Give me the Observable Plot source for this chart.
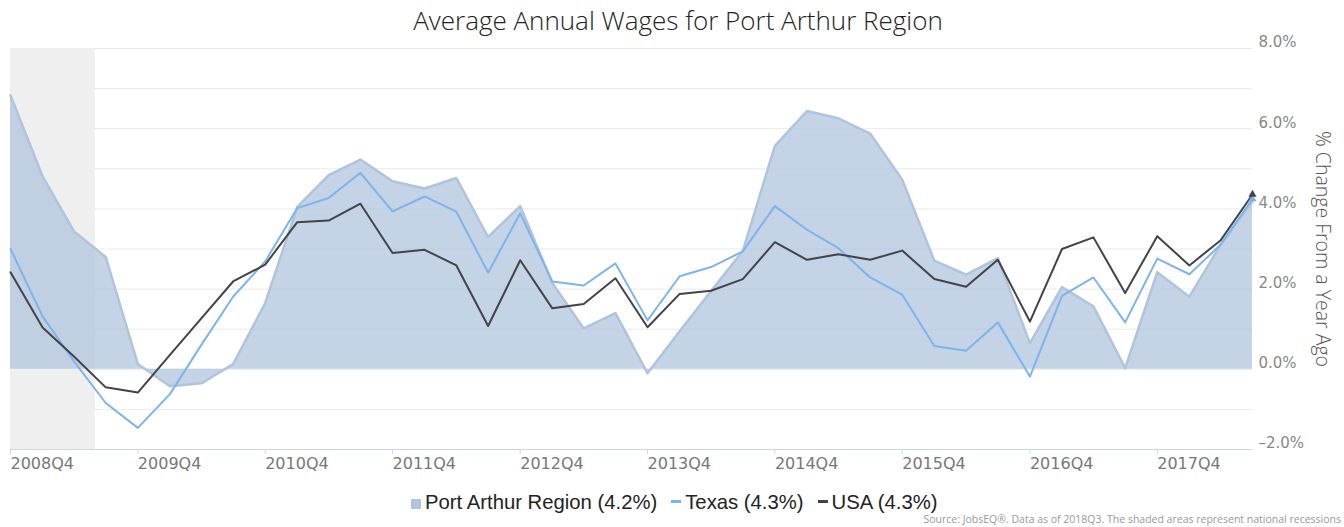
<!DOCTYPE html>
<html>
<head>
<meta charset="utf-8">
<script src="https://cdn.jsdelivr.net/npm/d3@7"></script>
<script src="https://cdn.jsdelivr.net/npm/@observablehq/plot@0.6"></script>
<style>
html, body { margin: 0; padding: 0; background: #fff; }
#wrap { position: relative; width: 1344px; height: 527px; overflow: hidden; }
#title { position: absolute; left: 6px; top: 0; width: 1344px; text-align: center;
  font-family: "Open Sans", sans-serif; font-weight: 300; font-size: 26px; line-height: 40px; color: #222; }
#chart { position: absolute; left: 0; top: 38px; }
#legend { position: absolute; left: 411px; top: 489px; font-family: "Liberation Sans", Arial, sans-serif;
  font-size: 20.3px; line-height: 26px; color: #222; white-space: nowrap; }
#legend .item { display: inline-block; margin-right: 14px; }
#legend .sq { display: inline-block; width: 10px; height: 10px; margin-right: 4px; vertical-align: baseline; }
#legend .ln { display: inline-block; width: 10px; height: 3px; margin-right: 4px; vertical-align: 0.3em; }
#source { position: absolute; right: 3px; top: 512px; font-family: "Open Sans", sans-serif; font-size: 10.5px;
  line-height: 14px; color: #999; white-space: nowrap; }
</style>
</head>
<body>
<div id="wrap">
  <div id="title"></div>
  <div id="chart"></div>
  <div id="legend"></div>
  <div id="source"></div>
</div>
<script>
const titleText = "Average Annual Wages for Port Arthur Region";
const yAxisTitle = "% Change From a Year Ago";
const sourceText = "Source: JobsEQ®. Data as of 2018Q3. The shaded areas represent national recessions";

const quarters = [
  "2008Q4","2009Q1","2009Q2","2009Q3","2009Q4","2010Q1","2010Q2","2010Q3",
  "2010Q4","2011Q1","2011Q2","2011Q3","2011Q4","2012Q1","2012Q2","2012Q3",
  "2012Q4","2013Q1","2013Q2","2013Q3","2013Q4","2014Q1","2014Q2","2014Q3",
  "2014Q4","2015Q1","2015Q2","2015Q3","2015Q4","2016Q1","2016Q2","2016Q3",
  "2016Q4","2017Q1","2017Q2","2017Q3","2017Q4","2018Q1","2018Q2","2018Q3"
];
const portArthur = [
  6.83, 4.81, 3.44, 2.80, 0.13, -0.42, -0.35, 0.13,
  1.65, 4.05, 4.84, 5.23, 4.69, 4.51, 4.77, 3.30,
  4.07, 2.15, 1.02, 1.40, -0.10, 0.95, 1.95, 2.95,
  5.57, 6.44, 6.26, 5.88, 4.73, 2.71, 2.36, 2.77,
  0.65, 2.05, 1.57, 0.03, 2.42, 1.81, 3.11, 4.19
];
const texas = [
  3.00, 1.32, 0.20, -0.84, -1.46, -0.62, 0.61, 1.81,
  2.69, 4.02, 4.27, 4.90, 3.94, 4.31, 3.93, 2.41,
  3.89, 2.19, 2.09, 2.64, 1.22, 2.32, 2.55, 2.94,
  4.07, 3.48, 3.02, 2.29, 1.86, 0.58, 0.46, 1.17,
  -0.18, 1.83, 2.29, 1.17, 2.76, 2.37, 3.11, 4.25
];
const usa = [
  2.42, 1.04, 0.32, -0.45, -0.58, 0.36, 1.27, 2.19,
  2.61, 3.67, 3.71, 4.13, 2.90, 2.98, 2.59, 1.08,
  2.72, 1.52, 1.63, 2.27, 1.05, 1.88, 1.96, 2.25,
  3.17, 2.73, 2.87, 2.73, 2.96, 2.25, 2.06, 2.73,
  1.19, 3.00, 3.29, 1.90, 3.32, 2.59, 3.22, 4.36
];
const xTickLabels = ["2008Q4","2009Q4","2010Q4","2011Q4","2012Q4","2013Q4","2014Q4","2015Q4","2016Q4","2017Q4"];
const yTickValues = [-2, 0, 2, 4, 6, 8];
const yGridValues = [-1, 0, 1, 2, 3, 4, 5, 6, 7, 8];
const recessionStarts = ["2007-12-01"];
const recessionEnds = ["2009-06-01"];
const seriesNames = ["Port Arthur Region", "Texas", "USA"];
const seriesLatest = ["4.2%", "4.3%", "4.3%"];
const seriesColors = ["#b0c4de", "#7cb5ec", "#434348"];

const parseQ = q => new Date(Date.UTC(+q.slice(0, 4), (+q.slice(5) - 1) * 3, 1));
const rows = quarters.map((q, i) => ({date: parseQ(q), port: portArthur[i], texas: texas[i], usa: usa[i]}));
const recessions = recessionStarts.map((s, i) => ({start: new Date(s), end: new Date(recessionEnds[i])}));
const tickLabelByTime = new Map(xTickLabels.map(l => [+parseQ(l), l]));
const fmtY = d => (d < 0 ? "\u2013" : "") + Math.abs(d).toFixed(1) + "%";
const last = [rows[rows.length - 1]];

const chart = Plot.plot({
  width: 1344, height: 446,
  marginLeft: 10, marginRight: 92, marginTop: 10, marginBottom: 35,
  style: {fontFamily: "DejaVu Sans, sans-serif", background: "transparent", overflow: "visible"},
  x: {type: "utc", domain: [rows[0].date, rows[rows.length - 1].date], label: null},
  y: {domain: [-2, 8], label: null},
  marks: [
    Plot.gridY(yGridValues, {stroke: "#e9e9e9", strokeOpacity: 1}),
    Plot.rect(recessions, {x1: "start", x2: "end", fill: "#efefef", clip: true}),
    Plot.areaY(rows, {x: "date", y: "port", fill: seriesColors[0], fillOpacity: 0.75}),
    Plot.lineY(rows, {x: "date", y: "port", stroke: seriesColors[0], strokeWidth: 2.5}),
    Plot.lineY(rows, {x: "date", y: "texas", stroke: seriesColors[1], strokeWidth: 2}),
    Plot.lineY(rows, {x: "date", y: "usa", stroke: seriesColors[2], strokeWidth: 2}),
    Plot.dot(last, {x: "date", y: "texas", symbol: "triangle", r: 3, fill: seriesColors[1]}),
    Plot.dot(last, {x: "date", y: "usa", symbol: "triangle", r: 3, fill: seriesColors[2]}),
    Plot.ruleY([-2], {stroke: "#ccd6eb"}),
    Plot.axisX({ticks: xTickLabels.map(parseQ), tickFormat: d => tickLabelByTime.get(+d), tickSize: 5,
      tickPadding: 3, stroke: "#ccd6eb", fill: "#777", textAnchor: "start", fontSize: 16, label: null}),
    Plot.axisY({anchor: "right", ticks: yTickValues, tickFormat: fmtY, tickSize: 0, tickPadding: 6, dy: -6,
      fill: "#888", fontSize: 15, label: null}),
    Plot.text([yAxisTitle], {text: d => d, frameAnchor: "right", textAnchor: "middle", dx: 70, rotate: 90,
      fontSize: 19.5, fill: "#555", fontFamily: "Open Sans", fontWeight: 300})
  ]
});
document.getElementById("chart").append(chart);
document.getElementById("title").textContent = titleText;
document.getElementById("source").textContent = sourceText;

const legend = document.getElementById("legend");
seriesNames.forEach((name, i) => {
  const item = document.createElement("span");
  item.className = "item";
  const sw = document.createElement("span");
  sw.className = i === 0 ? "sq" : "ln";
  sw.style.background = seriesColors[i];
  const label = document.createElement("span");
  label.textContent = `${name} (${seriesLatest[i]})`;
  item.append(sw, label);
  legend.append(item);
});
</script>
</body>
</html>
